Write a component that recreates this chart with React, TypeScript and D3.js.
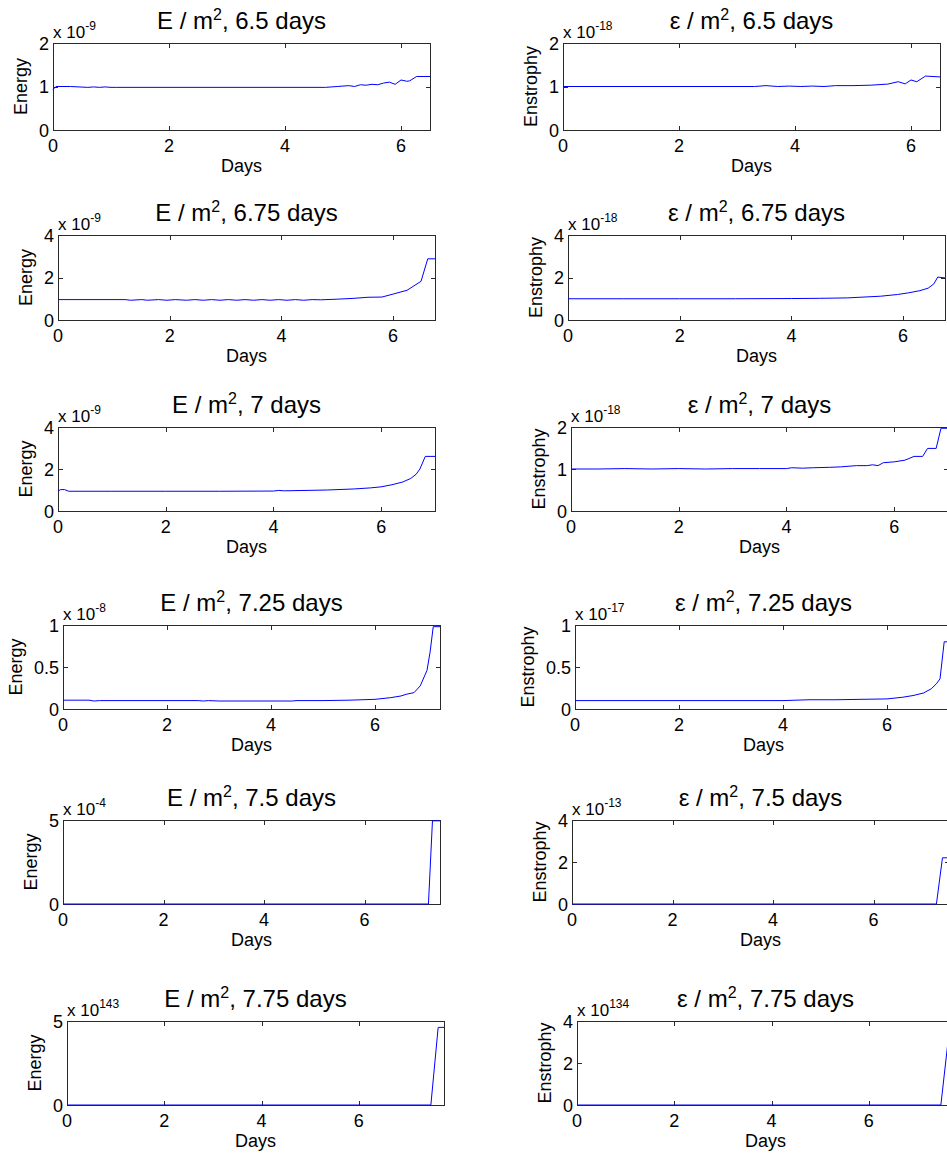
import React from 'react';
import * as d3 from 'd3';

const FONT = '"Liberation Sans", Arial, Helvetica, sans-serif';

// ---------- data ----------
const dayLabels = ['6.5', '6.75', '7', '7.25', '7.5', '7.75'];
const dayMax = [6.5, 6.75, 7, 7.25, 7.5, 7.75];
const xTicks = [0, 2, 4, 6];

const energyExp = ['-9', '-9', '-9', '-8', '-4', '143'];
const enstExp = ['-18', '-18', '-18', '-17', '-13', '134'];
const energyYTicks = [[0, 1, 2], [0, 2, 4], [0, 2, 4], [0, 0.5, 1], [0, 5], [0, 5]];
const enstYTicks = [[0, 1, 2], [0, 2, 4], [0, 1, 2], [0, 0.5, 1], [0, 2, 4], [0, 2, 4]];

// Energy series (units of the axis multiplier)
const e1_t = [0, 0.05, 0.3, 0.6, 0.7, 0.8, 0.9, 1.0, 1.1, 2, 3, 4, 4.7, 4.9, 5.1, 5.2, 5.3, 5.4, 5.5, 5.6, 5.7, 5.8, 5.9, 6.0, 6.1, 6.15, 6.27, 6.5];
const e1_v = [0.93, 1.0, 1.0, 0.98, 0.99, 0.98, 0.99, 0.98, 0.98, 0.98, 0.98, 0.98, 0.98, 1.0, 1.02, 1.0, 1.04, 1.03, 1.05, 1.04, 1.08, 1.1, 1.05, 1.15, 1.12, 1.13, 1.23, 1.23];

const e2_t = [0, 1.2, 1.3, 1.5, 1.6, 1.8, 1.95, 2.1, 2.3, 2.45, 2.6, 2.75, 2.9, 3.05, 3.2, 3.35, 3.5, 3.65, 3.8, 3.95, 4.1, 4.25, 4.4, 4.55, 4.7, 5.0, 5.3, 5.55, 5.8, 6.0, 6.25, 6.5, 6.62, 6.75];
const e2_v = [0.96, 0.96, 0.93, 0.96, 0.93, 0.96, 0.93, 0.96, 0.93, 0.96, 0.93, 0.96, 0.93, 0.96, 0.93, 0.96, 0.93, 0.96, 0.93, 0.96, 0.93, 0.96, 0.93, 0.96, 0.95, 0.98, 1.02, 1.07, 1.08, 1.22, 1.4, 1.82, 2.88, 2.88];

const e3_t = [0, 0.05, 0.12, 0.2, 1, 2, 3, 4, 4.1, 4.2, 5, 5.5, 5.8, 6.0, 6.2, 6.4, 6.55, 6.65, 6.72, 6.82, 7.0];
const e3_v = [0.95, 1.02, 1.02, 0.94, 0.94, 0.94, 0.94, 0.95, 0.98, 0.96, 1.0, 1.05, 1.1, 1.15, 1.25, 1.38, 1.55, 1.75, 2.0, 2.6, 2.6];

const e4_t = [0, 0.5, 0.6, 0.7, 1, 2, 2.6, 2.7, 2.8, 3, 4, 4.4, 4.5, 5, 5.5, 6.0, 6.3, 6.5, 6.6, 6.75, 6.87, 7.0, 7.06, 7.12, 7.25];
const e4_v = [0.105, 0.105, 0.095, 0.1, 0.1, 0.1, 0.1, 0.095, 0.1, 0.095, 0.095, 0.095, 0.1, 0.1, 0.105, 0.115, 0.135, 0.155, 0.175, 0.195, 0.275, 0.46, 0.68, 0.98, 0.98];

const e5_t = [0, 7.27, 7.35, 7.5];
const e5_v = [0, 0, 4.95, 4.95];

const e6_t = [0, 7.48, 7.63, 7.75];
const e6_v = [0, 0, 4.62, 4.62];

// Enstrophy series
const s1_t = [0, 1, 2, 3, 3.3, 3.5, 3.7, 3.9, 4.1, 4.3, 4.5, 4.7, 5.0, 5.3, 5.6, 5.78, 5.9, 6.0, 6.1, 6.25, 6.5];
const s1_v = [1.0, 1.0, 1.0, 1.0, 1.0, 1.02, 1.0, 1.01, 1.0, 1.01, 1.0, 1.02, 1.02, 1.03, 1.055, 1.11, 1.06, 1.15, 1.11, 1.24, 1.22];

const s2_t = [0, 1, 2, 3, 4, 4.5, 5, 5.3, 5.6, 5.9, 6.1, 6.3, 6.45, 6.55, 6.62, 6.75];
const s2_v = [1.0, 1.0, 1.0, 1.0, 1.01, 1.02, 1.04, 1.08, 1.12, 1.2, 1.28, 1.38, 1.5, 1.7, 2.02, 1.98];

const s3_t = [0, 0.5, 1, 1.5, 2, 2.5, 3, 3.5, 4.0, 4.1, 4.3, 4.5, 4.8, 5.0, 5.3, 5.5, 5.6, 5.7, 5.8, 6.0, 6.2, 6.37, 6.53, 6.62, 6.78, 6.87, 7.0];
const s3_v = [1.0, 1.0, 1.01, 1.0, 1.01, 1.0, 1.01, 1.01, 1.01, 1.03, 1.02, 1.03, 1.04, 1.05, 1.08, 1.08, 1.1, 1.08, 1.15, 1.17, 1.21, 1.3, 1.3, 1.49, 1.49, 1.97, 1.97];

const s4_t = [0, 1, 2, 3, 4, 4.5, 5, 5.5, 6.0, 6.3, 6.5, 6.7, 6.85, 6.95, 7.02, 7.1, 7.25];
const s4_v = [0.1, 0.1, 0.1, 0.1, 0.1, 0.11, 0.11, 0.115, 0.12, 0.14, 0.16, 0.19, 0.24, 0.3, 0.36, 0.8, 0.8];

const s5_t = [0, 7.25, 7.37, 7.5];
const s5_v = [0, 0, 2.2, 2.2];

const s6_t = [0, 7.48, 7.64, 7.75];
const s6_v = [0, 0, 3.3, 3.3];

const energyT = [e1_t, e2_t, e3_t, e4_t, e5_t, e6_t];
const energyV = [e1_v, e2_v, e3_v, e4_v, e5_v, e6_v];
const enstT = [s1_t, s2_t, s3_t, s4_t, s5_t, s6_t];
const enstV = [s1_v, s2_v, s3_v, s4_v, s5_v, s6_v];

// ---------- layout ----------
const leftX = [53, 58, 58, 63, 63, 67];
const rightX = [563, 568, 571, 575, 572, 577];
const rowTop = [43, 235, 427, 625, 820, 1021];
const rowH = [87, 85, 84, 84, 84, 84];
const BOX_W = 377;

function labelWidth(s: string) {
  let w = 0;
  for (const c of s) w += c === '.' ? 5 : 10;
  return w;
}

type PanelProps = {
  x0: number; y0: number; w: number; h: number; xmax: number;
  yTicks: number[]; t: number[]; v: number[];
  sym: string; exp: string; ylab: string; dayLabel: string;
};

function Panel({ x0, y0, w, h, xmax, yTicks, t, v, sym, exp, ylab, dayLabel }: PanelProps) {
  const xs = d3.scaleLinear().domain([0, xmax]).range([x0, x0 + w]);
  const ys = d3.scaleLinear().domain([yTicks[0], yTicks[yTicks.length - 1]]).range([y0 + h, y0]);
  const pts: [number, number][] = t.map((ti, i) => [ti, v[i]]);
  const line = d3.line<[number, number]>().x(d => xs(d[0])).y(d => ys(d[1]));
  const tl = 4.5;
  const axisColor = '#2a2a2a';
  const maxW = Math.max(...yTicks.map(d => labelWidth(String(d))));
  const cx = x0 + w / 2;
  return (
    <g fontFamily={FONT} fill="#000">
      <rect x={x0 + 0.5} y={y0 + 0.5} width={w} height={h} fill="none" stroke={axisColor} strokeWidth={1} shapeRendering="crispEdges" />
      {xTicks.map(d => (
        <g key={'xt' + d}>
          <line x1={Math.round(xs(d)) + 0.5} x2={Math.round(xs(d)) + 0.5} y1={y0 + h + 0.5} y2={y0 + h + 0.5 - tl} stroke={axisColor} shapeRendering="crispEdges" />
          <line x1={Math.round(xs(d)) + 0.5} x2={Math.round(xs(d)) + 0.5} y1={y0 + 0.5} y2={y0 + 0.5 + tl} stroke={axisColor} shapeRendering="crispEdges" />
          <text x={xs(d)} y={y0 + h + 22} fontSize={18} textAnchor="middle">{String(d)}</text>
        </g>
      ))}
      {yTicks.map(d => (
        <g key={'yt' + d}>
          <line x1={x0 + 0.5} x2={x0 + 0.5 + tl} y1={Math.round(ys(d)) + 0.5} y2={Math.round(ys(d)) + 0.5} stroke={axisColor} shapeRendering="crispEdges" />
          <line x1={x0 + w + 0.5} x2={x0 + w + 0.5 - tl} y1={Math.round(ys(d)) + 0.5} y2={Math.round(ys(d)) + 0.5} stroke={axisColor} shapeRendering="crispEdges" />
          <text x={x0 - 4} y={ys(d) + 6.5} fontSize={18} textAnchor="end">{String(d)}</text>
        </g>
      ))}
      <path d={line(pts) || ''} fill="none" stroke="#0000ff" strokeWidth={1} />
      <text x={cx} y={y0 - 14} fontSize={24} textAnchor="middle">
        <tspan>{sym + ' / m'}</tspan>
        <tspan dy={-9} fontSize={16}>2</tspan>
        <tspan dy={9}>{', ' + dayLabel + ' days'}</tspan>
      </text>
      <text x={x0} y={y0 - 5} fontSize={17}>
        <tspan>x 10</tspan>
        <tspan dy={-8} fontSize={12}>{exp}</tspan>
      </text>
      <text x={cx} y={y0 + h + 42} fontSize={18} textAnchor="middle">Days</text>
      <text transform={`translate(${x0 - maxW - 16},${y0 + h / 2}) rotate(-90)`} fontSize={18} textAnchor="middle">{ylab}</text>
    </g>
  );
}

export default function App() {
  return (
    <div style={{ position: 'absolute', left: 0, top: 0, width: 947, height: 1155, overflow: 'hidden', background: '#fff' }}>
      <svg width={947} height={1155} style={{ display: 'block', overflow: 'hidden' }}>
        <rect x={0} y={0} width={947} height={1155} fill="#fff" />
        {dayMax.map((dm, i) => (
          <Panel key={'e' + i} x0={leftX[i]} y0={rowTop[i]} w={BOX_W} h={rowH[i]} xmax={dm}
            yTicks={energyYTicks[i]} t={energyT[i]} v={energyV[i]} sym="E" exp={energyExp[i]}
            ylab="Energy" dayLabel={dayLabels[i]} />
        ))}
        {dayMax.map((dm, i) => (
          <Panel key={'s' + i} x0={rightX[i]} y0={rowTop[i]} w={BOX_W} h={rowH[i]} xmax={dm}
            yTicks={enstYTicks[i]} t={enstT[i]} v={enstV[i]} sym="ε" exp={enstExp[i]}
            ylab="Enstrophy" dayLabel={dayLabels[i]} />
        ))}
      </svg>
    </div>
  );
}
